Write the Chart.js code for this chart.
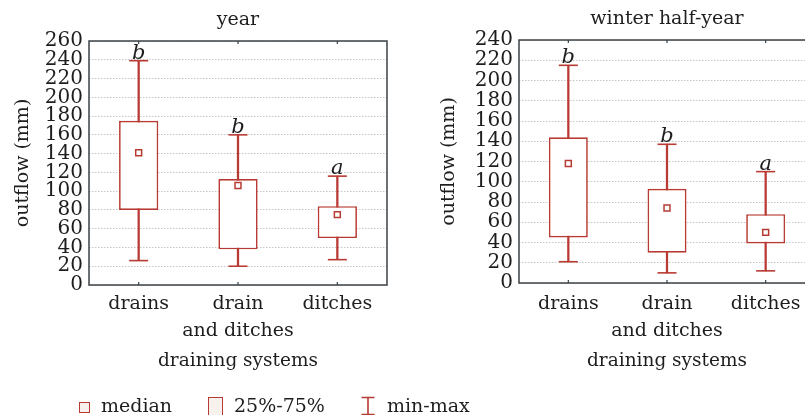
<!DOCTYPE html>
<html>
<head>
<meta charset="utf-8">
<script src="https://cdn.jsdelivr.net/npm/chart.js@4.4.0/dist/chart.umd.min.js"></script>
<style>
  html, body { margin:0; padding:0; background:#fff; width:805px; height:415px; overflow:hidden; }
  canvas { position:absolute; top:0; }
  #c1 { left:0; }
  #c2 { left:420px; }
  .lg { position:absolute; font-family:"DejaVu Serif", serif; font-size:19px; color:#1e1e1e; top:394px; line-height:22px; white-space:nowrap; }
  .ic { position:absolute; box-sizing:border-box; }
</style>
</head>
<body>
<canvas id="c1" width="476" height="415"></canvas>
<canvas id="c2" width="494" height="415"></canvas>

<div class="ic" style="left:79px; top:402px; width:11px; height:11px; border:1.5px solid #b83a32; background:#f6f1ec;"></div>
<div class="lg" style="left:101px;">median</div>
<div class="ic" style="left:208px; top:397px; width:15px; height:19px; border:1.5px solid #b83a32; background:#f6f1ec;"></div>
<div class="lg" style="left:234px;">25%-75%</div>
<svg class="ic" style="left:360px; top:396px;" width="16" height="20" viewBox="0 0 16 20">
  <path d="M1.5 1.5 H14.5 M8 1.5 V18.5 M1.5 18.5 H14.5" stroke="#b83a32" stroke-width="1.6" fill="none"/>
</svg>
<div class="lg" style="left:387px;">min-max</div>

<script>
// ---- data ----
const categories = ['drains', ['drain', 'and ditches'], 'ditches'];
const groupLetters = ['b', 'b', 'a'];

const yearMin    = [26, 20, 27];
const yearQ1     = [80, 38, 50];
const yearMedian = [141, 106, 75];
const yearQ3     = [175, 113, 84];
const yearMax    = [239, 160, 116];
const yearTicks  = [0, 20, 40, 60, 80, 100, 120, 140, 160, 180, 200, 220, 240, 260];

const winterMin    = [21, 10, 12];
const winterQ1     = [45, 30, 39];
const winterMedian = [118, 74, 50];
const winterQ3     = [144, 93, 68];
const winterMax    = [215, 137, 110];
const winterTicks  = [0, 20, 40, 60, 80, 100, 120, 140, 160, 180, 200, 220, 240];

const titleYear = 'year';
const titleWinter = 'winter half-year';
const yTitle = 'outflow (mm)';
const xTitle = 'draining systems';

// ---- styles ----
const RED = '#b83a32';
const FONT = '"DejaVu Serif", serif';
const TXT = '#1e1e1e';

const boxDecor = {
  id: 'boxDecor',
  afterDatasetsDraw(chart, args, opts) {
    const {ctx, chartArea, scales} = chart;
    const {left, top, right, bottom} = chartArea;
    ctx.save();
    ctx.strokeStyle = '#3a4246';
    ctx.lineWidth = 1.5;
    ctx.strokeRect(left, top, right - left, bottom - top);
    ctx.lineWidth = 1.2;
    for (let i = 0; i < opts.letters.length; i++) {
      const px = scales.x.getPixelForValue(i);
      ctx.beginPath();
      ctx.moveTo(px, top); ctx.lineTo(px, top + 3);
      ctx.moveTo(px, bottom); ctx.lineTo(px, bottom - 3);
      ctx.stroke();
    }
    ctx.fillStyle = TXT;
    ctx.font = 'italic 21px ' + FONT;
    ctx.textAlign = 'center';
    ctx.textBaseline = 'alphabetic';
    opts.letters.forEach((t, i) => {
      ctx.fillText(t, scales.x.getPixelForValue(i), scales.y.getPixelForValue(opts.max[i]) - 2);
    });
    ctx.restore();
  }
};

function makeBoxChart(id, o) {
  const boxData = o.q1.map((v, i) => [v, o.q3[i]]);
  const whiskData = o.min.map((v, i) => [v, o.max[i]]);
  return new Chart(document.getElementById(id), {
    type: 'bar',
    data: {
      labels: categories,
      datasets: [
        { type: 'line', label: 'median', data: o.median, showLine: false, order: 0,
          pointStyle: 'rect', pointRadius: 4.2, pointBorderWidth: 1.5,
          pointBorderColor: RED, pointBackgroundColor: '#fff' },
        { type: 'line', label: 'max', data: o.max, showLine: false, order: 1,
          pointStyle: 'line', pointRadius: 9.5, pointBorderWidth: 1.6, pointBorderColor: RED },
        { type: 'line', label: 'min', data: o.min, showLine: false, order: 1,
          pointStyle: 'line', pointRadius: 9.5, pointBorderWidth: 1.6, pointBorderColor: RED },
        { label: '25%-75%', data: boxData, order: 2, grouped: false,
          backgroundColor: '#fff', borderColor: RED, borderWidth: 1.7, borderSkipped: false,
          categoryPercentage: 1, barPercentage: 0.395 },
        { label: 'min-max', data: whiskData, order: 3, grouped: false,
          backgroundColor: RED, borderWidth: 0, barThickness: 1.6 }
      ]
    },
    options: {
      responsive: false,
      animation: false,
      events: [],
      layout: { padding: 0 },
      plugins: {
        legend: { display: false },
        tooltip: { enabled: false },
        title: { display: true, text: o.title, color: TXT,
          font: { family: FONT, size: 19, weight: 'normal', lineHeight: 1.2 },
          padding: { top: o.titlePadTop, bottom: o.titlePadBottom } },
        boxDecor: { letters: groupLetters, max: o.max }
      },
      scales: {
        x: {
          grid: { display: false },
          border: { display: false },
          ticks: { color: TXT, font: { family: FONT, size: 19, lineHeight: 1.42 },
            padding: o.xTickPad, maxRotation: 0, minRotation: 0, autoSkip: false },
          title: { display: true, text: xTitle, color: TXT,
            font: { family: FONT, size: 18.5, lineHeight: 1.2 }, padding: { top: 0, bottom: 43 } },
          afterFit: (s) => { s.height = o.xHeight; }
        },
        y: {
          min: 0, max: o.ticks[o.ticks.length - 1],
          afterBuildTicks: (s) => { s.ticks = o.ticks.map(v => ({ value: v })); },
          grid: { color: '#c6c6c6', lineWidth: 1, drawTicks: false },
          border: { display: false, dash: [1.5, 1.5] },
          ticks: { color: TXT, font: { family: FONT, size: 20, lineHeight: 1 }, padding: 6, autoSkip: false },
          title: { display: true, text: yTitle, color: TXT,
            font: { family: FONT, size: 19, lineHeight: 1.2 }, padding: { top: o.yTitlePad, bottom: 0 } },
          afterFit: (s) => { s.width = o.yWidth; }
        },
        yPad: {
          type: 'linear', axis: 'y', position: 'right', display: true,
          grid: { display: false }, border: { display: false }, ticks: { display: false },
          afterFit: (s) => { s.width = o.yWidth; }
        }
      }
    },
    plugins: [boxDecor]
  });
}

makeBoxChart('c1', {
  title: titleYear, min: yearMin, q1: yearQ1, median: yearMedian, q3: yearQ3, max: yearMax,
  ticks: yearTicks, yWidth: 89, xHeight: 130, xTickPad: -2.5, yTitlePad: 11.6,
  titlePadTop: 8.5, titlePadBottom: 9.7
});
makeBoxChart('c2', {
  title: titleWinter, min: winterMin, q1: winterQ1, median: winterMedian, q3: winterQ3, max: winterMax,
  ticks: winterTicks, yWidth: 99, xHeight: 132, xTickPad: -0.5, yTitlePad: 17.6,
  titlePadTop: 8, titlePadBottom: 9.2
});
</script>
</body>
</html>
